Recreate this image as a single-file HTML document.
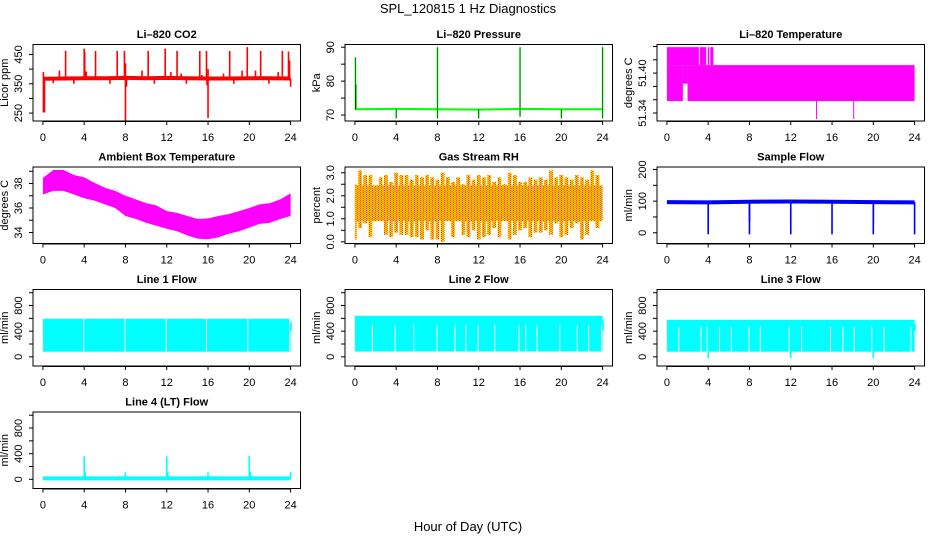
<!DOCTYPE html>
<html><head><meta charset="utf-8"><style>
html,body{margin:0;padding:0;background:#fff;}
svg{display:block;font-family:"Liberation Sans",sans-serif;}
</style></head><body>
<svg id="chart" width="936" height="540" viewBox="0 0 936 540" xmlns="http://www.w3.org/2000/svg">
<defs>
<pattern id="rhpat" width="3" height="2" patternUnits="userSpaceOnUse">
<rect width="3" height="2" fill="#ffd800"/><rect width="1" height="1" fill="#ff3000"/><rect x="1.5" y="1" width="1" height="1" fill="#ff3000"/>
</pattern>
</defs>
<text x="468" y="13" font-size="13" text-anchor="middle">SPL_120815  1 Hz Diagnostics</text>
<text x="468" y="531" font-size="13" text-anchor="middle">Hour of Day (UTC)</text>
</svg>
<script>
// ---- data ----
const xTicks = [0,4,8,12,16,20,24];
const co2BaseHours = [0,2,4,6,8,10,12,14,16,18,20,22,24];
const co2BaseVals = [367,368,369,369,370,369,370,369,368,368,369,369,368];
const co2SpikeHours = [2.2,4.0,4.05,5.1,7.2,7.9,10.2,11.85,13.0,15.2,15.85,18.1,19.8,21.1,23.2,23.8,23.9,1.6,9.6,12.4,15.4,17.5,19.3,20.6,22.8,0.05,8.0,16.0,4.2,13.4,0.05,0.15,0.1,8.0,8.1,16.0,15.9,24.0,3.0,6.5,10.8,13.9,18.5,21.9,1.0];
const co2SpikeVals = [463,470,460,462,462,462,462,470,462,462,462,462,475,462,462,460,430,395,395,390,380,385,395,395,390,390,420,400,392,385,252,252,300,223,340,233,345,340,350,350,350,350,350,350,352];
const presBaseHours = [0,4,8,12,16,20,24];
const presBaseVals = [71.7,71.8,71.7,71.6,71.8,71.7,71.7];
const presSpikeHours = [0.05,0.1,8.0,16.0,24.0,4.0,8.0,12.0,16.0,20.0,24.0];
const presSpikeVals = [87,79,90,90,90,69,69,69,69.5,69,69];
const tempBlockStart = [0,2.0,1.55,0,3.2,3.95,4.2];
const tempBlockEnd = [1.55,24,2.0,3.1,3.8,4.1,4.5];
const tempBlockLow = [51.358,51.358,51.384,51.412,51.412,51.412,51.412];
const tempBlockHigh = [51.412,51.412,51.412,51.439,51.439,51.439,51.439];
const tempSpikeHours = [14.5,18.1];
const tempSpikeVals = [51.331,51.331];
const ambHours = [0,1,2,3,4,5,6,7,8,9,10,11,12,13,14,15,16,17,18,19,20,21,22,23,24];
const ambHigh = [38.46,39.1,39.1,38.7,38.5,38.05,37.65,37.4,37.0,36.7,36.4,36.2,35.75,35.6,35.35,35.1,35.15,35.35,35.5,35.75,36.0,36.3,36.4,36.7,37.2];
const ambLow = [37.1,37.4,37.4,37.1,36.8,36.6,36.3,36.0,35.35,35.1,34.8,34.55,34.3,34.1,33.75,33.5,33.45,33.6,33.9,34.1,34.4,34.7,34.8,35.1,35.35];
const rhCore = [0.9,2.45];
const rhHigh = [2.5,3.1,2.9,2.9,2.4,2.8,2.9,2.6,3.0,2.9,2.9,2.7,2.9,2.8,2.9,2.8,2.7,3.0,2.8,2.6,2.8,2.5,2.9,2.7,2.9,2.8,2.9,2.6,2.8,2.5,3.0,2.9,2.6,2.6,2.8,2.7,2.8,2.7,3.1,2.8,2.9,2.8,2.7,2.9,2.8,2.7,3.1,2.9,2.1];
const rhLow = [0.1,0.6,0.8,0.2,0.9,0.9,0.3,0.2,0.4,0.3,0.3,0.2,0.2,0.1,0.5,0.1,0.1,0.0,0.9,0.2,0.9,0.3,0.2,0.5,0.1,0.2,0.3,0.6,0.2,0.9,0.1,0.3,0.5,0.6,0.2,0.4,0.4,0.5,0.3,0.8,0.2,0.3,0.6,0.8,0.1,0.3,0.9,0.6,1.1];
const flowBaseHours = [0,4,8,12,16,20,24];
const flowBaseVals = [97,96,98,99,98,97,96];
const flowDipHours = [4,8,12,16,20,24,8,20];
const flowDipVals = [-5,-5,-5,-5,-5,-5,35,30];
const line1Band = [80,593];
const line1Gaps = [3.9,7.9,11.9,15.8,19.8,23.85];
const line1GapTop = 590;
const line2Band = [83,640];
const line2Gaps = [1.65,3.85,5.65,7.9,9.65,10.7,11.9,13.5,15.85,16.5,17.6,19.8,21.5,22.6,23.85];
const line2GapTop = 500;
const line3Band = [80,577];
const line3Gaps = [1.1,3.25,3.85,5.05,6.2,7.9,9.0,11.8,13.0,15.8,17.0,18.1,19.8,21.0,23.6];
const line3GapTop = 470;
const line3DipHours = [4.0,12.0,20.0];
const line3DipVals = [-20,-20,-20];
const line4BaseHours = [0,6,12,18,24];
const line4BaseVals = [15,15,15,15,15];
const line4SpikeHours = [4,4.1,8,12,12.1,16,20,20.1,24];
const line4SpikeVals = [360,110,110,360,110,110,370,110,110];

// ---- layout ----
const svg = document.getElementById('chart');
const NS = 'http://www.w3.org/2000/svg';
function mk(tag, attrs, parent){const e=document.createElementNS(NS,tag);for(const k in attrs)e.setAttribute(k,attrs[k]);(parent||svg).appendChild(e);return e;}

function panel(col,row,title,ytitle,ydom,yticks,ylabels,name){
  const left=col*312+33, right=col*312+300.5;
  const rowTop=20+122.5*row, top=rowTop+24.5, bottom=rowTop+101;
  const g=mk('g',{});
  
  
  const xs=v=>left+(v+0.96)/25.92*(right-left);
  const ys=v=>bottom-(v-ydom[0])/(ydom[1]-ydom[0])*(bottom-top);
  const P={g,xs,ys,left,right,top,bottom};
  const t=mk('text',{x:(left+right)/2,y:rowTop+18,'font-size':11,'font-weight':'bold','text-anchor':'middle'},g);
  t.textContent=title;
  
  
  P.plot=mk('g',{},g);
  
  
  const box=mk('rect',{x:left,y:top,width:right-left,height:bottom-top,fill:'none',stroke:'#000','stroke-width':1},g);
  
  
  const xa=mk('g',{},g);
  
  
  xTicks.forEach(v=>{
    mk('line',{x1:xs(v),x2:xs(v),y1:bottom,y2:bottom+4,stroke:'#000'},xa);
    const l=mk('text',{x:xs(v),y:bottom+20,'font-size':11,'text-anchor':'middle'},xa);l.textContent=v;
  });
  mk('line',{x1:xs(0),x2:xs(24),y1:bottom+0.5,y2:bottom+0.5,stroke:'#000'},xa);
  const ya=mk('g',{},g);
  
  
  yticks.forEach(v=>mk('line',{x1:left-4,x2:left,y1:ys(v),y2:ys(v),stroke:'#000'},ya));
  ylabels.forEach(v=>{
    const y=ys(v), x=left-11;
    const l=mk('text',{x:x,y:y,'font-size':11,'text-anchor':'middle',transform:`rotate(-90 ${x} ${y})`},ya);
    l.textContent=v;
  });
  const yt=mk('text',{x:left-25,y:(top+bottom)/2,'font-size':11,'text-anchor':'middle',transform:`rotate(-90 ${left-25} ${(top+bottom)/2})`},g);
  yt.textContent=ytitle;
  
  
  return P;
}
function polyline(P,hours,vals,color,w){
  mk('polyline',{points:hours.map((h,i)=>P.xs(h)+','+P.ys(vals[i])).join(' '),fill:'none',stroke:color,'stroke-width':w},P.plot);
}
function spikes(P,hours,vals,base,color,w){
  hours.forEach((h,i)=>mk('line',{x1:P.xs(h),x2:P.xs(h),y1:P.ys(base),y2:P.ys(vals[i]),stroke:color,'stroke-width':w},P.plot));
}
function rectV(P,x0,x1,lo,hi,fill){
  mk('rect',{x:P.xs(x0),y:P.ys(hi),width:Math.max(1,P.xs(x1)-P.xs(x0)),height:P.ys(lo)-P.ys(hi),fill:fill},P.plot);
}

// CO2
let P=panel(0,0,'Li\u2013820 CO2','Licor ppm',[223,484],[250,300,350,400,450],[250,350,450],'co2');
spikes(P,co2SpikeHours,co2SpikeVals,368,'#ff0000',1.6);
polyline(P,co2BaseHours,co2BaseVals,'#ff0000',4);
// Pressure
P=panel(1,0,'Li\u2013820 Pressure','kPa',[68.24,90.8],[70,75,80,85,90],[70,80,90],'pressure');
spikes(P,presSpikeHours,presSpikeVals,71.7,'#00ff00',1.5);
polyline(P,presBaseHours,presBaseVals,'#00ff00',2);
spikes(P,presSpikeHours,presSpikeVals,71.7,'#003300',0.6);
// Li820 temperature
P=panel(2,0,'Li\u2013820 Temperature','degrees C',[51.328,51.443],[51.34,51.36,51.38,51.40,51.42,51.44],['51.34','51.40'],'li820-temp');
tempBlockStart.forEach((s,i)=>rectV(P,s,tempBlockEnd[i],tempBlockLow[i],tempBlockHigh[i],'#ff00ff'));
spikes(P,tempSpikeHours,tempSpikeVals,51.36,'#ff00ff',1);
// Ambient
P=panel(0,1,'Ambient Box Temperature','degrees C',[33.1,39.35],[34,35,36,37,38,39],[34,36,38],'ambient-temp');
mk('polygon',{points:ambHours.map((h,i)=>P.xs(h)+','+P.ys(ambHigh[i])).concat(ambHours.slice().reverse().map((h,j)=>P.xs(h)+','+P.ys(ambLow[ambHours.length-1-j]))).join(' '),fill:'#ff00ff'},P.plot);
// RH
P=panel(1,1,'Gas Stream RH','percent',[-0.074,3.25],[0,0.5,1,1.5,2,2.5,3],['0.0','1.0','2.0','3.0'],'gas-rh');
rectV(P,0,24,rhCore[0],rhCore[1],'url(#rhpat)');
rhHigh.forEach((v,i)=>{const h=i*0.5;rectV(P,Math.max(0,h-0.18),Math.min(24,h+0.18),rhLow[i],v,'url(#rhpat)');});
// Sample flow
P=panel(2,1,'Sample Flow','ml/min',[-34,208],[0,50,100,150,200],[0,100,200],'sample-flow');
spikes(P,flowDipHours,flowDipVals,97,'#0000ff',1.6);
polyline(P,flowBaseHours,flowBaseVals,'#0000ff',4);
// Lines 1-3
const lineTicks=[0,200,400,600,800,1000], lineLabels=[0,400,800], lineDom=[-143,1050];
function lineFlow(col,row,title,band,gaps,gapTop,name){
  const P=panel(col,row,title,'ml/min',lineDom,lineTicks,lineLabels,name);
  rectV(P,0,24,band[0],band[1],'#00ffff');
  gaps.forEach(h=>rectV(P,h,h+0.08,band[0],gapTop,'#ffffff'));
  rectV(P,24.0,24.12,400,band[1]-60,'#00ffff');
  return P;
}
lineFlow(0,2,'Line 1 Flow',line1Band,line1Gaps,line1GapTop,'line1-flow');
lineFlow(1,2,'Line 2 Flow',line2Band,line2Gaps,line2GapTop,'line2-flow');
P=lineFlow(2,2,'Line 3 Flow',line3Band,line3Gaps,line3GapTop,'line3-flow');
spikes(P,line3DipHours,line3DipVals,100,'#00ffff',1.6);
// Line 4
P=panel(0,3,'Line 4 (LT) Flow','ml/min',lineDom,lineTicks,lineLabels,'line4-flow');
spikes(P,line4SpikeHours,line4SpikeVals,15,'#00ffff',1.6);
polyline(P,line4BaseHours,line4BaseVals,'#00ffff',4);
</script>
</body></html>
